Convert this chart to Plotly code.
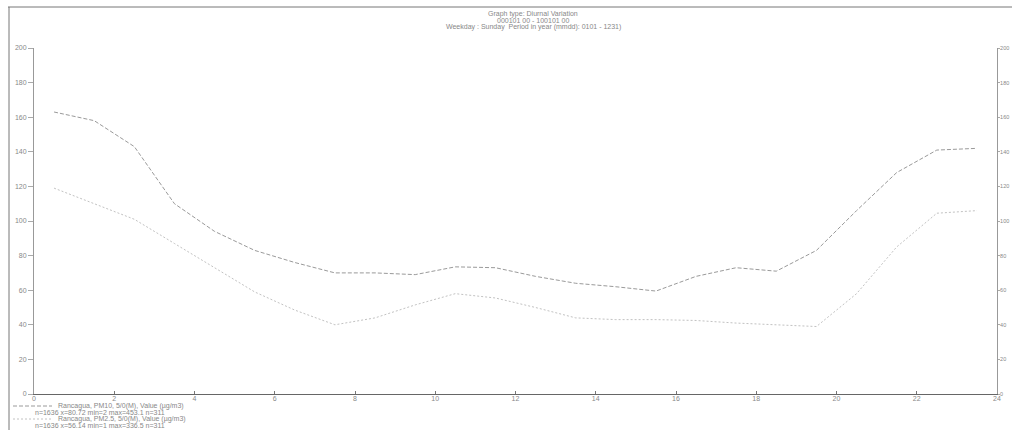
import plotly.graph_objects as go

# ---- data ----
hours = [0.5, 1.5, 2.5, 3.5, 4.5, 5.5, 6.5, 7.5, 8.5, 9.5, 10.5, 11.5,
         12.5, 13.5, 14.5, 15.5, 16.5, 17.5, 18.5, 19.5, 20.5, 21.5, 22.5, 23.5]
pm10 = [163, 158, 143, 110, 94, 83, 76, 70, 70, 69, 73.5, 73,
        68, 64, 62, 59.5, 68, 73, 71, 83, 106, 128, 141, 142]
pm25 = [119, 110, 101, 87, 73, 59, 48.5, 40, 44, 51.5, 58, 55.5,
        50, 44, 43, 43, 42.5, 41, 40, 39, 58, 85, 104.5, 106]
x_ticks = [0, 2, 4, 6, 8, 10, 12, 14, 16, 18, 20, 22, 24]
y_ticks = [0, 20, 40, 60, 80, 100, 120, 140, 160, 180, 200]

title_lines = ["Graph type: Diurnal Variation",
               "000101 00 - 100101 00",
               "Weekday : Sunday  Period in year (mmdd): 0101 - 1231)"]
legend_lines = ["Rancagua, PM10, 5/0(M), Value (µg/m3)",
                "n=1636 x=80.72 min=2 max=453.1 n=311",
                "Rancagua, PM2.5, 5/0(M), Value (µg/m3)",
                "n=1636 x=56.14 min=1 max=336.5 n=311"]

# ---- layout geometry (pixels) ----
W, H = 1012, 430
L, R, T, B = 34, 997, 48, 394


def px(x):
    return (x - L) / (R - L)


def py(y):
    return (B - y) / (B - T)


FONT = "Liberation Sans"
c1, c2 = "#9a9a9a", "#c2c2c2"
TXT = "#888888"

fig = go.Figure()
fig.add_trace(go.Scatter(x=hours, y=pm10, mode="lines",
                         line=dict(color=c1, width=1, dash="4px,2px"), showlegend=False))
fig.add_trace(go.Scatter(x=hours, y=pm25, mode="lines",
                         line=dict(color=c2, width=1, dash="2px,2px"), showlegend=False))
fig.add_trace(go.Scatter(x=[None], y=[None], yaxis="y2", showlegend=False))

axis_font = dict(family=FONT, size=7, color=TXT)
fig.update_layout(
    width=W, height=H,
    margin=dict(l=L, r=W - R, t=T, b=H - B, autoexpand=False),
    paper_bgcolor="white", plot_bgcolor="white",
    xaxis=dict(range=[0, 24], tickvals=x_ticks, ticks="inside", ticklen=3,
               tickcolor="#777", showline=True, linecolor="#666", linewidth=1,
               showgrid=False, zeroline=False, tickfont=axis_font,
               automargin=False, ticklabelstandoff=-2),
    yaxis=dict(range=[0, 200], tickvals=y_ticks, ticks="outside", ticklen=5,
               tickcolor="#aaa", showline=True, linecolor="#999", linewidth=1,
               showgrid=False, zeroline=False, tickfont=axis_font, automargin=False),
    yaxis2=dict(range=[0, 200], tickvals=y_ticks, overlaying="y", side="right",
                ticks="outside", ticklen=2, tickcolor="#aaa", showline=True,
                linecolor="#999", linewidth=1, showgrid=False, zeroline=False,
                tickfont=dict(family=FONT, size=5.5, color=TXT), automargin=False,
                ticklabelstandoff=-1),
)

shapes = []
# frame lines
shapes.append(dict(type="line", xref="paper", yref="paper",
                   x0=px(8), x1=px(1012), y0=py(7), y1=py(7),
                   line=dict(color="#777", width=1)))
shapes.append(dict(type="line", xref="paper", yref="paper",
                   x0=px(9), x1=px(9), y0=py(7), y1=py(430),
                   line=dict(color="#777", width=1)))

annotations = []
for i, t in enumerate(title_lines):
    annotations.append(dict(text=t, xref="paper", yref="paper", x=px(533), y=py(14 + 6.5 * i),
                            xanchor="center", yanchor="middle", showarrow=False,
                            font=dict(family=FONT, size=7, color=TXT)))

leg_y = [406, 412, 419, 425]
leg_x = [56, 33, 56, 33]
for i, t in enumerate(legend_lines):
    annotations.append(dict(text=t, xref="paper", yref="paper", x=px(leg_x[i]), y=py(leg_y[i]),
                            xanchor="left", yanchor="middle", showarrow=False,
                            font=dict(family=FONT, size=7, color=TXT)))
for yy, col, dash in [(leg_y[0], c1, "4px,2px"), (leg_y[2], c2, "2px,2px")]:
    shapes.append(dict(type="line", xref="paper", yref="paper",
                       x0=px(13), x1=px(52), y0=py(yy), y1=py(yy),
                       line=dict(color=col, width=1, dash=dash)))

fig.update_layout(shapes=shapes, annotations=annotations)
fig.write_html("out.html")
